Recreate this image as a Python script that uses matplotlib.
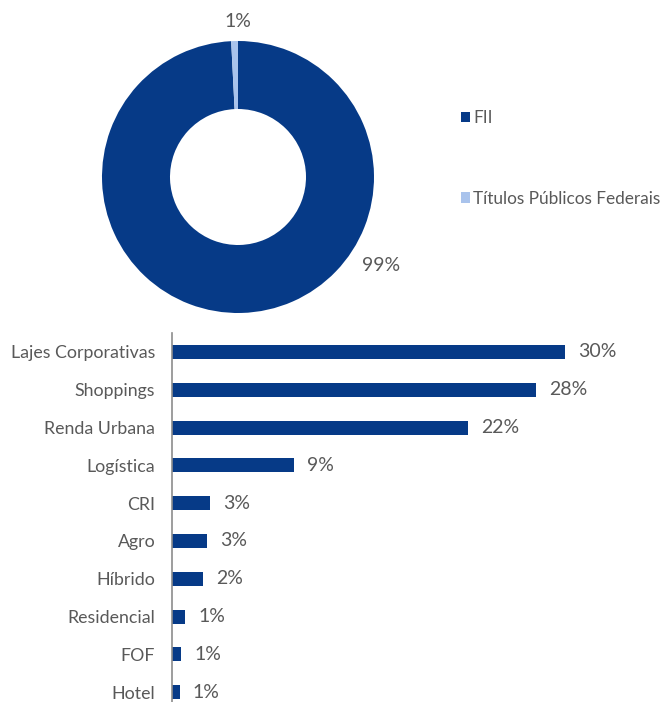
import numpy as np
import matplotlib.pyplot as plt
from matplotlib.patches import Patch

# donut: asset class split
pie_labels = ["FII", "Títulos Públicos Federais"]
pie_values = [99.2, 0.8]
pie_text = ["99%", "1%"]

# bars: FII segments
segments = ["Lajes Corporativas", "Shoppings", "Renda Urbana", "Logística", "CRI",
            "Agro", "Híbrido", "Residencial", "FOF", "Hotel"]
seg_values = [30.0, 27.8, 22.6, 9.3, 2.9, 2.7, 2.4, 1.0, 0.7, 0.6]
seg_text = ["30%", "28%", "22%", "9%", "3%", "3%", "2%", "1%", "1%", "1%"]

navy = "#063a87"
light = "#a9c3ec"
grey = "#595959"

plt.rcParams["font.family"] = ["Lato", "DejaVu Sans"]

W, H = 670, 702
fig = plt.figure(figsize=(W / 100, H / 100), dpi=100)

# ---- donut ----
cx, cy, r, half = 238, 177, 136, 150
ax1 = fig.add_axes([(cx - half) / W, 1 - (cy + half) / H, 2 * half / W, 2 * half / H])
ax1.pie(pie_values, colors=[navy, light], startangle=90, counterclock=False,
        radius=1, wedgeprops=dict(width=0.5, edgecolor="none"))
lim = half / r
ax1.set_xlim(-lim, lim)
ax1.set_ylim(-lim, lim)
ax1.set_aspect("equal")
ax1.axis("off")
ax1.text(1.05, -0.65, pie_text[0], fontsize=14, color=grey, ha="center", va="center")
ax1.text(0.0, 1.14, pie_text[1], fontsize=14, color=grey, ha="center", va="center")

handles = [Patch(facecolor=navy), Patch(facecolor=light)]
fig.legend(handles, pie_labels, loc="upper left", bbox_to_anchor=(461 / W, 1 - 110 / H),
           frameon=False, fontsize=12.4, labelcolor=grey, handlelength=0.55, handleheight=0.55,
           handletextpad=0.15, labelspacing=3.75, borderaxespad=0, borderpad=0)

# ---- bars ----
x0, x1, y0, y1 = 172, 640, 333, 702
ax2 = fig.add_axes([x0 / W, 1 - y1 / H, (x1 - x0) / W, (y1 - y0) / H])
pos = np.arange(len(segments))
ax2.barh(pos, seg_values, height=0.37, color=navy)
ax2.set_xlim(0, 30.0 * (x1 - x0) / 393)
ax2.set_ylim(9.26, -0.5)
ax2.set_yticks(pos)
ax2.set_yticklabels(segments, fontsize=12.8, color=grey)
ax2.tick_params(axis="y", length=0, pad=12)
ax2.set_xticks([])
for s in ["top", "right", "bottom"]:
    ax2.spines[s].set_visible(False)
ax2.spines["left"].set_color("#8c8c8c")
ax2.spines["left"].set_linewidth(1.2)
for p, v, t in zip(pos, seg_values, seg_text):
    ax2.text(v + 1.0, p, t, fontsize=14, color=grey, va="center", ha="left")

fig.savefig("out.png", dpi=100)
